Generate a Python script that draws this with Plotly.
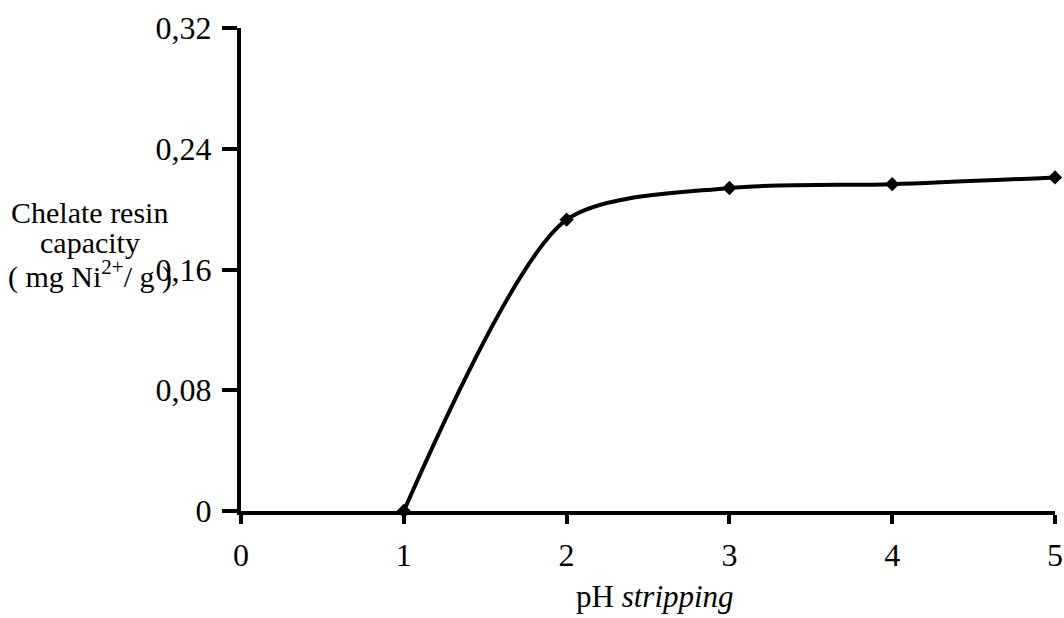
import plotly.graph_objects as go

ph = [1, 2, 3, 4, 5]
capacity = [0.0, 0.193, 0.214, 0.2165, 0.221]
y_ticks = [0, 0.08, 0.16, 0.24, 0.32]
y_tick_labels = ["0", "0,08", "0,16", "0,24", "0,32"]
x_ticks = [0, 1, 2, 3, 4, 5]
y_title_lines = ["Chelate resin", "capacity", "( mg Ni<sup>2+</sup>/ g )"]
x_title = "pH <i>stripping</i>"

FONT = "Liberation Serif"

fig = go.Figure()
fig.add_trace(go.Scatter(
    x=ph, y=capacity, mode="lines+markers",
    line=dict(color="black", width=4, shape="spline", smoothing=0.75),
    marker=dict(symbol="diamond", size=11, color="black"),
    cliponaxis=False, showlegend=False,
))

annotations = []
for txt, yp in zip(y_title_lines, [0.619, 0.555, 0.489]):
    annotations.append(dict(
        text=txt, xref="paper", yref="paper", x=-0.186, y=yp,
        xanchor="center", yanchor="middle", showarrow=False,
        font=dict(family=FONT, size=30, color="black")))
annotations.append(dict(
    text=x_title, xref="paper", yref="paper", x=0.509, y=-0.178,
    xanchor="center", yanchor="middle", showarrow=False,
    font=dict(family=FONT, size=31, color="black")))

fig.update_layout(
    width=1064, height=618,
    margin=dict(l=241, r=9, t=28, b=107),
    paper_bgcolor="white", plot_bgcolor="white",
    font=dict(family=FONT, color="black", size=32),
    xaxis=dict(
        range=[0, 5], tickvals=x_ticks, ticks="outside", ticklen=9,
        tickwidth=3.5, tickcolor="black", showline=True, linewidth=4,
        linecolor="black", showgrid=False, zeroline=False,
        ticklabelstandoff=4, automargin=False,
    ),
    yaxis=dict(
        range=[0, 0.32], tickvals=y_ticks, ticktext=y_tick_labels,
        ticks="outside", ticklen=15, tickwidth=3.5, tickcolor="black",
        showline=True, linewidth=4, linecolor="black", showgrid=False,
        zeroline=False, ticklabelstandoff=4, automargin=False,
    ),
    annotations=annotations,
)

fig.write_html("out.html", config={"displayModeBar": False})

# remove the default page margin so the figure sits at the window's corner
with open("out.html", encoding="utf-8") as f:
    html = f.read()
html = html.replace("<head>", "<head><style>html,body{margin:0;padding:0;overflow:hidden}</style>", 1)
with open("out.html", "w", encoding="utf-8") as f:
    f.write(html)
